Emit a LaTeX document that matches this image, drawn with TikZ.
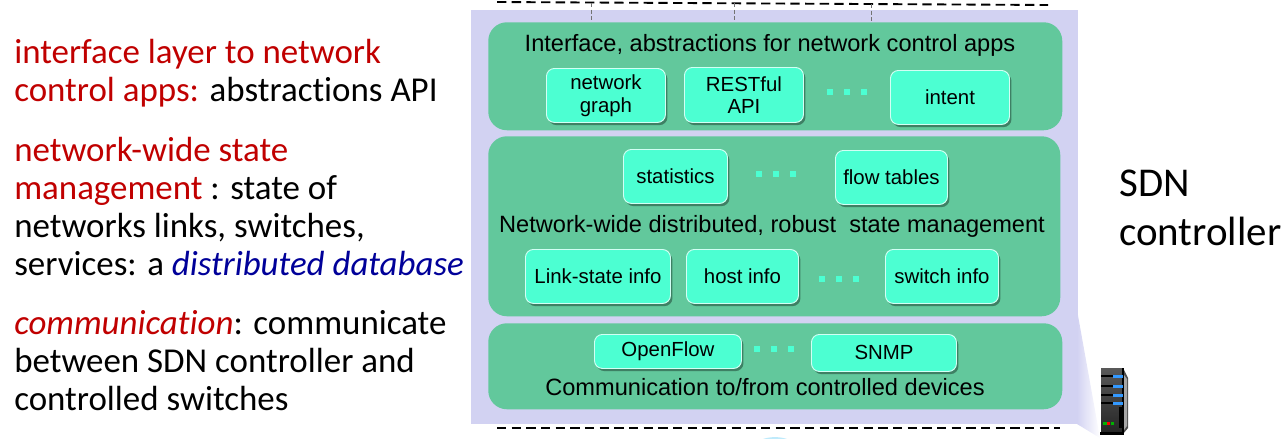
\documentclass[tikz,border=0pt]{standalone}
\usepackage{xcolor}
\usepackage{fontspec}
\setmainfont{Liberation Sans}
\newfontfamily\notefont[Ligatures=NoCommon]{Carlito}
\usetikzlibrary{positioning,shadows,calc}
\definecolor{panelBlue}{RGB}{210,210,242}
\definecolor{layerGreen}{RGB}{98,200,156}
\definecolor{modAqua}{RGB}{76,255,210}
\definecolor{noteRed}{RGB}{192,0,0}
\definecolor{noteBlue}{RGB}{0,0,153}
\tikzset{
  layer/.style={fill=layerGreen,rounded corners=14pt,inner sep=0pt,anchor=north west},
  mod/.style={draw=white!75!modAqua,line width=0.7pt,fill=modAqua,rounded corners=6pt,inner sep=0pt,
              font=\fontsize{15.3}{18}\selectfont,align=center,anchor=north west,
              drop shadow={shadow xshift=1.5pt,shadow yshift=-2pt,fill=black!45!layerGreen,opacity=0.8}},
  head/.style={font=\fontsize{17.7}{20}\selectfont,inner sep=0pt},
  note/.style={font=\notefont\fontsize{26.2}{28.6}\selectfont,align=left,anchor=north west,inner sep=0pt},
  dotmark/.style={fill=modAqua,minimum size=4pt,inner sep=0pt},
  dashline/.style={black,line width=1.4pt,dash pattern=on 7pt off 4pt},
  drop/.style={black!55,line width=0.5pt,densely dashed},
}
\begin{document}
\begin{tikzpicture}[x=0.75pt,y=-0.75pt]
  \useasboundingbox (0,0) rectangle (1285,439);
  % panel and the wedge going down to the server
  \shade[left color=panelBlue,right color=white] (1077,310) -- (1100,438) -- (1077,424) -- cycle;
  \node[fill=panelBlue,minimum width=455.25pt,minimum height=310.5pt,inner sep=0pt,anchor=north west] (panel) at (471,10) {};
  \fill[cyan!25] (763,439) .. controls (770,436.5) and (780,436.5) .. (787,439) -- cycle;

  % layers
  \node[layer,minimum width=430.5pt,minimum height=81pt]  (ifLayer)   at (488,22)  {};
  \node[layer,minimum width=429pt,minimum height=135pt]   (stLayer)   at (488,136) {};
  \node[layer,minimum width=430.5pt,minimum height=64.5pt] (comLayer) at (488,323) {};

  % dashed boundaries
  \coordinate (topL) at (497,2);
  \coordinate (topR) at (1048,5);
  \coordinate (botL) at (497,428);
  \coordinate (botR) at (1060,428);
  \draw[dashline] (topL) -- (topR);
  \draw[dashline] (botL) -- (botR);
  \coordinate (up1) at (591,3);
  \coordinate (up2) at (734,3);
  \coordinate (up3) at (871,4);
  \draw[drop] (up1) -- (up1 |- ifLayer.north);
  \draw[drop] (up2) -- (up2 |- ifLayer.north);
  \draw[drop] (up3) -- (up3 |- ifLayer.north);

  % interface layer
  \node[head] (ifHead) at (770,45) {Interface, abstractions for network control apps};
  \node[mod,minimum width=89.25pt,minimum height=40.5pt] (graph)  at (546,68) {network\\[-1pt]graph};
  \node[mod,minimum width=89.25pt,minimum height=41.25pt] (rest)  at (684,67) {RESTful\\[-1pt]API};
  \node[mod,minimum width=89.25pt,minimum height=40.5pt] (intent) at (890,70) {intent};

  % state layer
  \node[mod,minimum width=78pt,minimum height=40.5pt]  (stats) at (623,149) {statistics};
  \node[mod,minimum width=84pt,minimum height=40.5pt]  (flow)  at (835,150) {flow tables};
  \node[head] (stHead) at (772,226) {Network-wide distributed, robust\ \ state management};
  \node[mod,minimum width=108.75pt,minimum height=40.5pt] (link)   at (525,249) {Link-state info};
  \node[mod,minimum width=84pt,minimum height=40.5pt]     (host)   at (686,249) {host info};
  \node[mod,minimum width=84.75pt,minimum height=40.5pt]  (switch) at (885,249) {switch info};

  % communication layer
  \node[mod,minimum width=110.25pt,minimum height=25.5pt] (oflow) at (594,334) {OpenFlow};
  \node[mod,minimum width=108.75pt,minimum height=27.75pt] (snmp) at (811,334) {SNMP};
  \node[head] (comHead) at (765,387) {Communication to/from controlled devices};

  % dots between the modules
  \foreach \px/\py in {830/92,847/92,864/92,759/174,776/174,793/174,822/279,839/279,856/279,757/349,774/349,791/349}
    \node[dotmark] at (\px,\py) {};

  % notes
  \node[note] (n1) at (14,39) {\textcolor{noteRed}{interface layer to network}\\\textcolor{noteRed}{control apps:} abstractions API};
  \node[note] (n2) at (14,137) {\textcolor{noteRed}{network-wide state}\\\textcolor{noteRed}{management} : state of\\networks links, switches,\\services: a \textcolor{noteBlue}{\itshape distributed database}};
  \node[note] (n3) at (14,310) {\textcolor{noteRed}{\itshape communication}: communicate\\between SDN controller and\\controlled switches};
  \node[note,font=\notefont\fontsize{30.7}{36.75}\selectfont] (sdn) at (1119,170) {SDN\\controller};

  % server
  \fill[black!70] (1123,368) -- (1128,378) -- (1128,428) -- (1123,434) -- cycle;
  \shade[top color=black!65,bottom color=black!85] (1101,368) rectangle (1123,432);
  \fill[black] (1122,368) rectangle (1124,432);
  \fill[black!35] (1124,375) -- (1127,379) -- (1127,426) -- (1124,430) -- cycle;
  \foreach \py in {376,386,395,403} {
    \fill[black] (1101,\py-1) rectangle (1113,\py+1.2);
    \fill[blue!50!cyan!80] (1113,\py-1.5) rectangle (1123,\py+1.5);
  }
  \fill[black] (1119,407) rectangle (1122,428);
  \fill[green!70!black] (1103,421.5) rectangle (1107,425);
  \fill[red] (1107,421.5) rectangle (1110,425);
  \fill[green!70!black] (1111,421.5) rectangle (1114,425);
  \fill[black] (1100,432) rectangle (1124,435);
\end{tikzpicture}
\end{document}
